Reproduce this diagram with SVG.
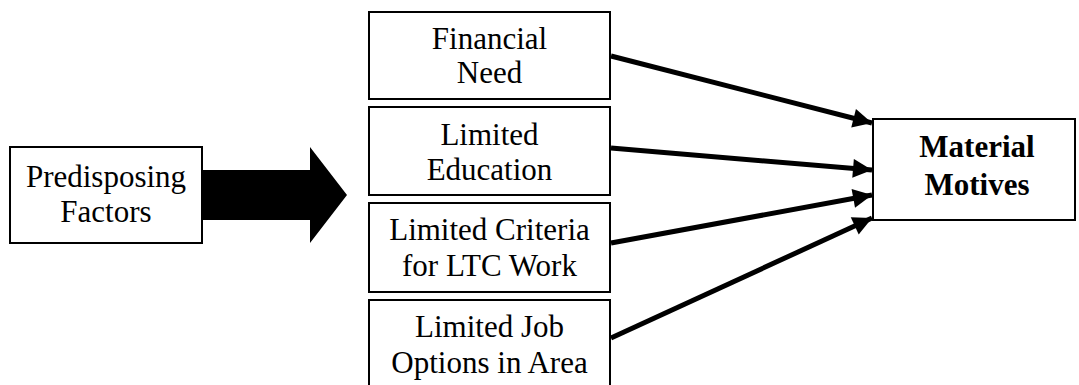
<svg xmlns="http://www.w3.org/2000/svg" width="1079" height="385" viewBox="0 0 1079 385">
  <defs>
    <marker id="head" viewBox="0 0 10 10" refX="10" refY="5" markerWidth="4" markerHeight="3.8" orient="auto" markerUnits="strokeWidth">
      <path d="M0,0 L10,5 L0,10 Z" fill="#000"/>
    </marker>
    <style>
      .box { fill: #fff; stroke: #000; stroke-width: 2; }
      .lbl { font-family: "Liberation Serif", "Times New Roman", serif; font-size: 31px; fill: #000; text-anchor: middle; }
      .bold { font-weight: bold; }
      .conn { stroke: #000; stroke-width: 5; fill: none; marker-end: url(#head); }
    </style>
  </defs>
  <rect width="1079" height="385" fill="#fff"/>

  <g id="predisposing">
    <rect class="box" x="10" y="147" width="192" height="96"/>
    <text class="lbl" x="106" y="187">Predisposing</text>
    <text class="lbl" x="106" y="222">Factors</text>
  </g>

  <g id="big-arrow">
    <path d="M202,170 L310,170 L310,147 L347,195 L310,243 L310,220 L202,220 Z" fill="#000"/>
  </g>

  <g id="financial-need">
    <rect class="box" x="369" y="12" width="241" height="87"/>
    <text class="lbl" x="489.5" y="49">Financial</text>
    <text class="lbl" x="489.5" y="83">Need</text>
  </g>

  <g id="limited-education">
    <rect class="box" x="369" y="107" width="241" height="88"/>
    <text class="lbl" x="489.5" y="145">Limited</text>
    <text class="lbl" x="489.5" y="180">Education</text>
  </g>

  <g id="limited-criteria">
    <rect class="box" x="369" y="203" width="241" height="89"/>
    <text class="lbl" x="489.5" y="240">Limited Criteria</text>
    <text class="lbl" x="489.5" y="276">for LTC Work</text>
  </g>

  <g id="limited-job">
    <rect class="box" x="369" y="300" width="241" height="90"/>
    <text class="lbl" x="489.5" y="337">Limited Job</text>
    <text class="lbl" x="489.5" y="373">Options in Area</text>
  </g>

  <g id="material-motives">
    <rect class="box" x="873" y="119" width="202" height="101"/>
    <text class="lbl bold" x="977" y="157">Material</text>
    <text class="lbl bold" x="977" y="195">Motives</text>
  </g>

  <g id="connectors">
    <line class="conn" x1="611" y1="56" x2="872" y2="123"/>
    <line class="conn" x1="611" y1="148" x2="872" y2="170"/>
    <line class="conn" x1="611" y1="243" x2="872" y2="195"/>
    <line class="conn" x1="611" y1="338" x2="872" y2="218"/>
  </g>
</svg>
